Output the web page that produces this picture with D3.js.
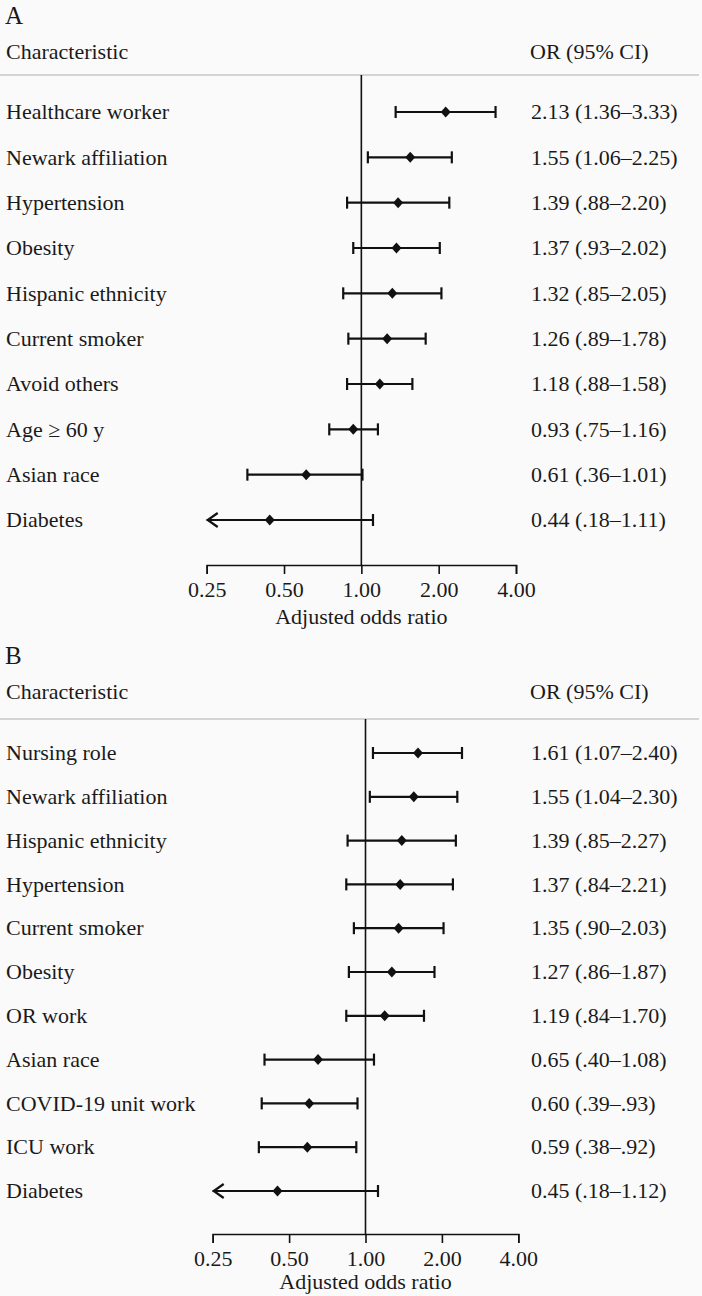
<!DOCTYPE html>
<html><head><meta charset="utf-8">
<script src="https://cdn.jsdelivr.net/npm/d3@7"></script>
<style>
html,body{margin:0;padding:0;background:#fafafa;}
svg{display:block;}
text{font-family:"Liberation Serif","DejaVu Serif",serif;fill:#1a1a1a;}
</style></head>
<body><svg id="chart" width="702" height="1296"></svg>
<script>
// Panel A data
const labelsA = ["Healthcare worker","Newark affiliation","Hypertension","Obesity","Hispanic ethnicity","Current smoker","Avoid others","Age \u2265 60 y","Asian race","Diabetes"];
const orA = [2.13,1.55,1.39,1.37,1.32,1.26,1.18,0.93,0.61,0.44];
const loA = [1.36,1.06,0.88,0.93,0.85,0.89,0.88,0.75,0.36,0.18];
const hiA = [3.33,2.25,2.20,2.02,2.05,1.78,1.58,1.16,1.01,1.11];
const ciTextA = ["2.13 (1.36\u20133.33)","1.55 (1.06\u20132.25)","1.39 (.88\u20132.20)","1.37 (.93\u20132.02)","1.32 (.85\u20132.05)","1.26 (.89\u20131.78)","1.18 (.88\u20131.58)","0.93 (.75\u20131.16)","0.61 (.36\u20131.01)","0.44 (.18\u20131.11)"];

// Panel B data
const labelsB = ["Nursing role","Newark affiliation","Hispanic ethnicity","Hypertension","Current smoker","Obesity","OR work","Asian race","COVID-19 unit work","ICU work","Diabetes"];
const orB = [1.61,1.55,1.39,1.37,1.35,1.27,1.19,0.65,0.60,0.59,0.45];
const loB = [1.07,1.04,0.85,0.84,0.90,0.86,0.84,0.40,0.39,0.38,0.18];
const hiB = [2.40,2.30,2.27,2.21,2.03,1.87,1.70,1.08,0.93,0.92,1.12];
const ciTextB = ["1.61 (1.07\u20132.40)","1.55 (1.04\u20132.30)","1.39 (.85\u20132.27)","1.37 (.84\u20132.21)","1.35 (.90\u20132.03)","1.27 (.86\u20131.87)","1.19 (.84\u20131.70)","0.65 (.40\u20131.08)","0.60 (.39\u2013.93)","0.59 (.38\u2013.92)","0.45 (.18\u20131.12)"];

const tickValues = [0.25,0.5,1,2,4];
const tickLabels = ["0.25","0.50","1.00","2.00","4.00"];

const svg = d3.select("#chart");
const FS = 22;

function panel(cfg){
  const g = svg.append("g");
  const n = cfg.labels.length;
  const x = d3.scaleLog().base(2).domain([0.25,4]).range(cfg.xr);
  const y = d3.scalePoint().domain(d3.range(n)).range([cfg.y0, cfg.y1]);

  g.append("text").attr("x",5).attr("y",cfg.top+24).attr("font-size",25).text(cfg.letter);
  g.append("text").attr("x",6).attr("y",cfg.top+59).attr("font-size",FS).text("Characteristic");
  g.append("text").attr("x",530).attr("y",cfg.top+59).attr("font-size",FS).text("OR (95% CI)");
  g.append("line").attr("x1",0).attr("x2",699).attr("y1",cfg.sep).attr("y2",cfg.sep)
    .attr("stroke","#d4d4d4").attr("stroke-width",2);

  // reference line
  g.append("line").attr("x1",x(1)).attr("x2",x(1)).attr("y1",cfg.sep).attr("y2",cfg.axisY)
    .attr("stroke","#111").attr("stroke-width",1.6);

  // axis
  const axis = d3.axisBottom(x).tickValues(tickValues).tickFormat((d,i)=>tickLabels[i]).tickSizeOuter(0).tickSize(9).tickPadding(7);
  const ag = g.append("g").attr("transform",`translate(0,${cfg.axisY})`).call(axis);
  ag.select(".domain").attr("stroke","#111").attr("stroke-width",1.6);
  ag.selectAll(".tick line").attr("stroke","#111").attr("stroke-width",1.6);
  ag.selectAll(".tick text").attr("font-size",FS).attr("fill","#1a1a1a")
    .attr("font-family","Liberation Serif, serif");
  g.append("text").attr("x",x(1)).attr("y",cfg.axisY+cfg.titleOff).attr("text-anchor","middle").attr("font-size",FS).text("Adjusted odds ratio");

  const rows = g.selectAll("g.row").data(d3.range(n)).enter().append("g").attr("class","row");
  rows.append("text").attr("x",6).attr("y",i=>y(i)).attr("dy","0.33em").attr("font-size",FS).text(i=>cfg.labels[i]);
  rows.append("text").attr("x",531).attr("y",i=>y(i)).attr("dy","0.33em").attr("font-size",FS).text(i=>cfg.ci[i]);

  rows.each(function(i){
    const r = d3.select(this);
    const lo = cfg.lo[i], hi = cfg.hi[i];
    const clipped = lo < 0.25;
    const xl = x(Math.max(lo,0.25)), xh = x(hi), yy = y(i);
    r.append("line").attr("x1",xl).attr("x2",xh).attr("y1",yy).attr("y2",yy).attr("stroke","#111").attr("stroke-width",2.2);
    r.append("line").attr("x1",xh).attr("x2",xh).attr("y1",yy-6).attr("y2",yy+6).attr("stroke","#111").attr("stroke-width",2.2);
    if(clipped){
      r.append("path").attr("d",`M${xl+11},${yy-7}L${xl+1},${yy}L${xl+11},${yy+7}`).attr("fill","none").attr("stroke","#111").attr("stroke-width",2.2);
    } else {
      r.append("line").attr("x1",xl).attr("x2",xl).attr("y1",yy-6).attr("y2",yy+6).attr("stroke","#111").attr("stroke-width",2.2);
    }
    const cx = x(cfg.or[i]);
    r.append("path").attr("d",`M${cx},${yy-5.5}L${cx+5},${yy}L${cx},${yy+5.5}L${cx-5},${yy}Z`).attr("fill","#111");
  });
}

panel({letter:"A",top:0,sep:75,labels:labelsA,or:orA,lo:loA,hi:hiA,ci:ciTextA,
  xr:[206.7,516],y0:112,y1:520,axisY:565,titleOff:59});
panel({letter:"B",top:640,sep:719,labels:labelsB,or:orB,lo:loB,hi:hiB,ci:ciTextB,
  xr:[212.7,518.3],y0:753,y1:1191,axisY:1234,titleOff:55});
</script></body></html>
